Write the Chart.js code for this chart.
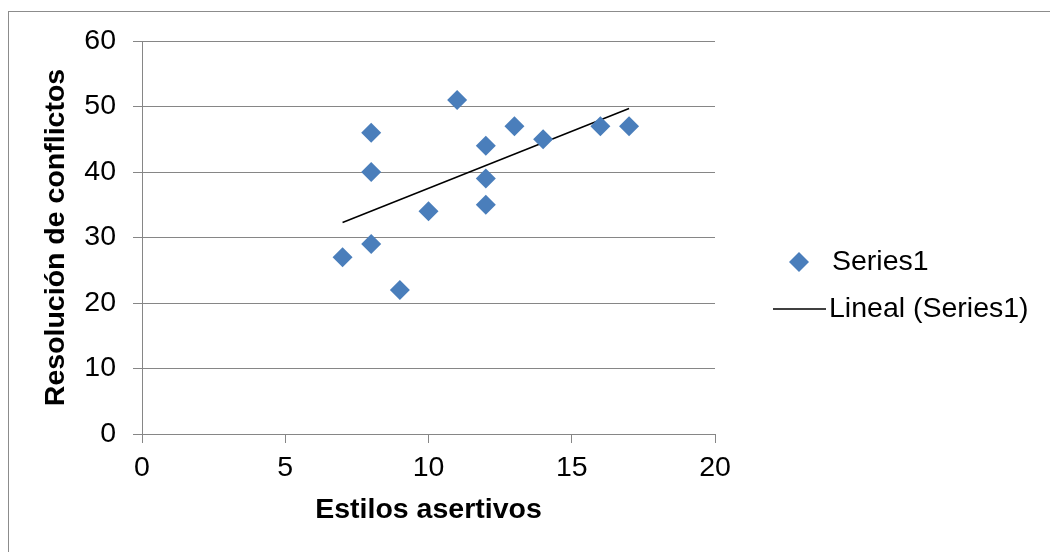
<!DOCTYPE html>
<html>
<head>
<meta charset="utf-8">
<script src="https://cdn.jsdelivr.net/npm/chart.js@4/dist/chart.umd.min.js"></script>
<style>
  html, body { margin: 0; padding: 0; background: #fff; }
  #wrap { width: 1050px; height: 552px; }
</style>
</head>
<body>
<div id="wrap"><canvas id="scatter_chart" width="1050" height="552"></canvas></div>
<script>
// DATA
const estilos = [7, 8, 8, 8, 9, 10, 11, 12, 12, 12, 13, 14, 16, 17];
const resolucion = [27, 29, 40, 46, 22, 34, 51, 44, 39, 35, 47, 45, 47, 47];
const trend_x = [7, 17];
const trend_y = [32.3, 49.7];
const x_ticks = [0, 5, 10, 15, 20];
const y_ticks = [0, 10, 20, 30, 40, 50, 60];
const series_label = 'Series1';
const trend_label = 'Lineal (Series1)';

const grid_color = '#868686';
const point_color = '#4A7EBB';
const font_family = '"Liberation Sans", Arial, sans-serif';

const ctx = document.getElementById('scatter_chart').getContext('2d');

// outer frame + legend, drawn by hand
const framePlugin = {
  id: 'frame',
  beforeDraw(chart) {
    const c = chart.ctx;
    c.save();
    c.fillStyle = '#fff';
    c.fillRect(0, 0, chart.width, chart.height);
    c.strokeStyle = '#8c8c8c';
    c.lineWidth = 1;
    c.strokeRect(8.5, 11.5, 1200, 700);
    c.restore();
  },
  afterDraw(chart) {
    const c = chart.ctx;
    c.save();
    // diamond marker
    c.fillStyle = point_color;
    c.beginPath();
    c.moveTo(799, 252);
    c.lineTo(809, 262);
    c.lineTo(799, 272);
    c.lineTo(789, 262);
    c.closePath();
    c.fill();
    // line marker
    c.strokeStyle = '#000';
    c.lineWidth = 1.5;
    c.beginPath();
    c.moveTo(773, 309);
    c.lineTo(826, 309);
    c.stroke();
    c.fillStyle = '#000';
    c.font = '28.5px ' + font_family;
    c.textBaseline = 'middle';
    c.fillText(series_label, 832, 262);
    c.fillText(trend_label, 829, 309);
    c.restore();
  }
};

const points = estilos.map((x, i) => ({ x: x, y: resolucion[i] }));
const trend = trend_x.map((x, i) => ({ x: x, y: trend_y[i] }));

new Chart(ctx, {
  type: 'scatter',
  data: {
    datasets: [{
      label: series_label,
      data: points,
      pointStyle: 'rectRot',
      pointRadius: 10,
      pointHoverRadius: 10,
      backgroundColor: point_color,
      borderColor: point_color,
      borderWidth: 0
    }, {
      label: trend_label,
      type: 'line',
      data: trend,
      borderColor: '#000',
      borderWidth: 1.5,
      pointRadius: 0,
      fill: false
    }]
  },
  options: {
    responsive: false,
    animation: false,
    layout: { padding: { left: 0, top: 41, right: 335, bottom: 0 } },
    plugins: {
      legend: { display: false },
      tooltip: { enabled: false }
    },
    scales: {
      x: {
        type: 'linear',
        min: 0,
        max: 20,
        afterBuildTicks: s => { s.ticks = x_ticks.map(v => ({ value: v })); },
        afterFit: s => { s.height = 118; },
        border: { color: grid_color, width: 1 },
        grid: { drawOnChartArea: false, color: grid_color, tickLength: 9 },
        ticks: { color: '#000', padding: 8, font: { family: font_family, size: 28.5 } },
        title: {
          display: true,
          text: 'Estilos asertivos',
          color: '#000',
          font: { family: font_family, size: 28.5, weight: 'bold' },
          padding: { top: 0, bottom: 25 }
        }
      },
      y: {
        type: 'linear',
        min: 0,
        max: 60,
        afterBuildTicks: s => { s.ticks = y_ticks.map(v => ({ value: v })); },
        afterFit: s => { s.width = 142; },
        border: { color: grid_color, width: 1 },
        grid: { color: grid_color, tickLength: 9 },
        ticks: { color: '#000', padding: 17, font: { family: font_family, size: 28.5 } },
        title: {
          display: true,
          text: 'Resolución de conflictos',
          color: '#000',
          font: { family: font_family, size: 28.5, weight: 'bold' },
          padding: { top: 39, bottom: 0 }
        }
      }
    }
  },
  plugins: [framePlugin]
});
</script>
</body>
</html>
